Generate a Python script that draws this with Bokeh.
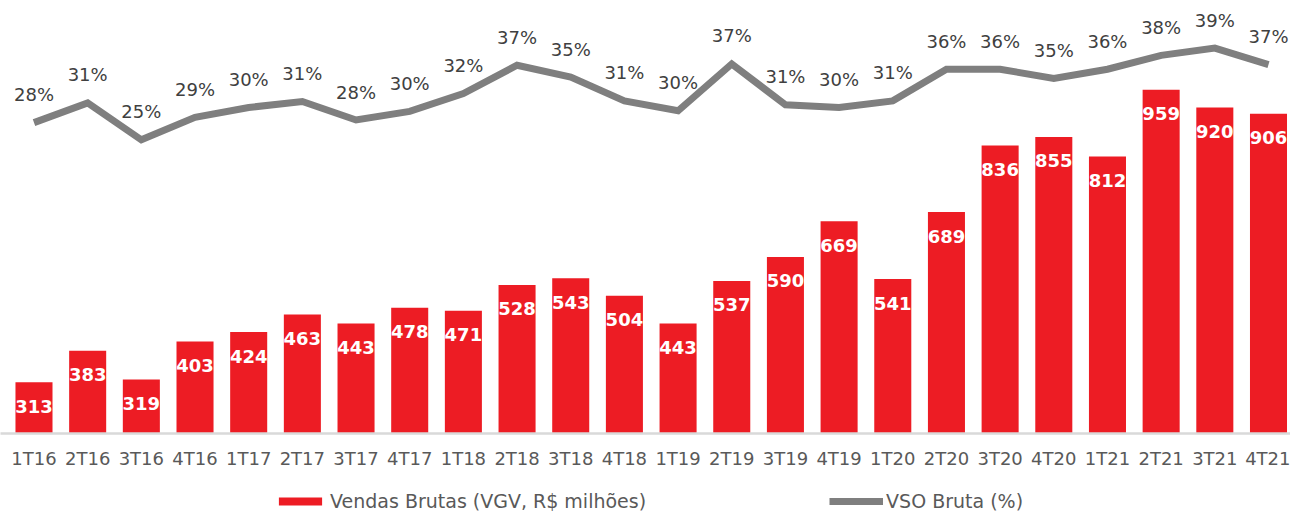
from bokeh.plotting import figure
from bokeh.layouts import column
from bokeh.models import Range1d, FixedTicker, Legend, LegendItem, ColumnDataSource
from bokeh.embed import file_html
from bokeh.resources import INLINE
from bokeh.core.properties import value

quarters = ["1T16", "2T16", "3T16", "4T16", "1T17", "2T17", "3T17", "4T17",
            "1T18", "2T18", "3T18", "4T18", "1T19", "2T19", "3T19", "4T19",
            "1T20", "2T20", "3T20", "4T20", "1T21", "2T21", "3T21", "4T21"]
vendas = [313, 383, 319, 403, 424, 463, 443, 478, 471, 528, 543, 504,
          443, 537, 590, 669, 541, 689, 836, 855, 812, 959, 920, 906]
vso = [27.9, 30.9, 25.3, 28.7, 30.2, 31.1, 28.3, 29.6, 32.3, 36.6, 34.8, 31.2,
       29.7, 36.8, 30.6, 30.2, 31.2, 36.0, 36.0, 34.6, 36.0, 38.1, 39.2, 36.7]
legend_labels = ["Vendas Brutas (VGV, R$ milhões)", "VSO Bruta (%)"]

RED = "#ED1C24"
GRAY = "#7F7F7F"
FONT = "DejaVu Sans"

x = list(range(len(quarters)))
src = ColumnDataSource(dict(
    x=x, vendas=vendas, vso=vso,
    vlab=[str(v) for v in vendas],
    plab=[f"{round(v)}%" for v in vso],
))

p = figure(frame_width=1290, frame_height=433,
           x_range=Range1d(-0.624, 23.41), y_range=Range1d(200, 1156.3),
           output_backend="svg", toolbar_location=None,
           min_border_left=0, min_border_right=0, min_border_top=0,
           min_border_bottom=38)
p.extra_y_ranges = {"pct": Range1d(-19.2, 46.41)}
p.yaxis.visible = False
p.grid.visible = False
p.outline_line_color = None

bars = p.vbar(x="x", top="vendas", bottom=200, width=0.69, source=src,
              fill_color=RED, line_color=None)
line = p.line("x", "vso", y_range_name="pct", source=src, line_width=7,
              line_color=GRAY, line_join="miter")

p.text(x="x", y="vendas", text="vlab", source=src, text_color="white",
       text_font=value(FONT), text_font_style="bold", text_font_size="18px",
       text_align="center", text_baseline="middle", y_offset=24)
p.text(x="x", y="vso", y_range_name="pct", text="plab", source=src,
       text_color="#404040", text_font=value(FONT), text_font_size="18px",
       text_align="center", text_baseline="middle", y_offset=-28)

ax = p.xaxis[0]
ax.ticker = FixedTicker(ticks=x)
ax.major_label_overrides = {i: q for i, q in enumerate(quarters)}
ax.major_tick_in = 0
ax.major_tick_out = 0
ax.minor_tick_in = 0
ax.minor_tick_out = 0
ax.axis_line_color = "#D9D9D9"
ax.axis_line_width = 2.5
ax.major_label_text_font = FONT
ax.major_label_text_font_size = "18px"
ax.major_label_text_color = "#595959"
ax.major_label_standoff = 14

# legend strip below the chart (proxy renderers kept outside the visible range)
pl = figure(width=1290, height=41, x_range=Range1d(0, 1), y_range=Range1d(0, 1),
            output_backend="svg", toolbar_location=None, min_border=0)
pl.axis.visible = False
pl.grid.visible = False
pl.outline_line_color = None
lb = pl.vbar(x=[-10], top=[-10], bottom=-11, width=0.5, fill_color=RED, line_color=None)
ll = pl.line(x=[-10, -9], y=[-10, -10], line_width=7, line_color=GRAY)
legend = Legend(items=[
    LegendItem(label=legend_labels[0], renderers=[lb]),
    LegendItem(label=legend_labels[1], renderers=[ll]),
], orientation="horizontal", spacing=183, glyph_width=54, glyph_height=10,
    label_text_font=FONT, label_text_font_size="19px", label_text_color="#595959",
    label_standoff=3, label_height=20, border_line_color=None,
    background_fill_alpha=0, padding=0, margin=0, location=(273, 0))
pl.add_layout(legend, "center")

open("out.html", "w").write(file_html(column(p, pl, spacing=0), INLINE))
